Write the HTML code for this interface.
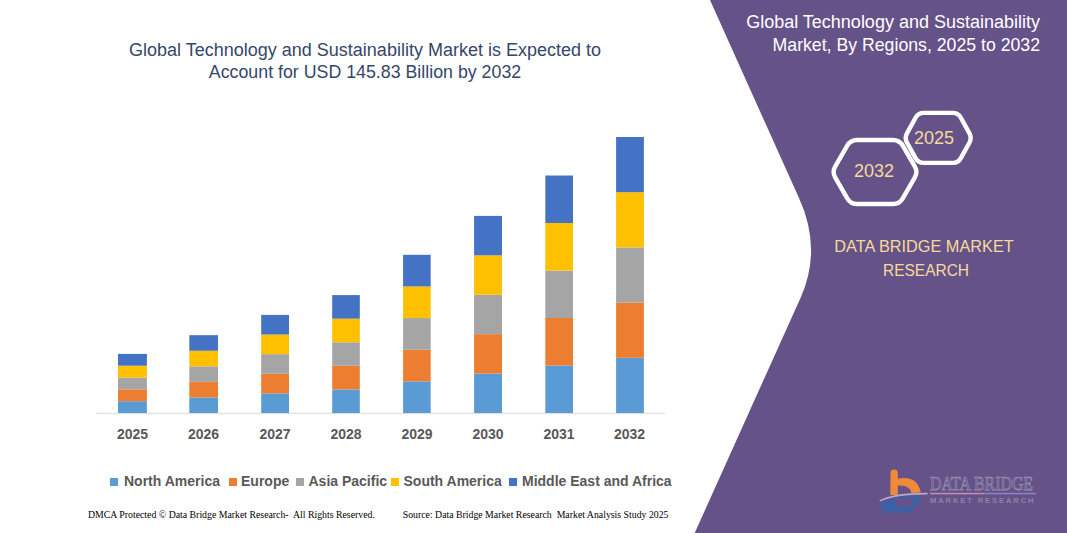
<!DOCTYPE html>
<html><head><meta charset="utf-8">
<style>
html,body{margin:0;padding:0;}
body{width:1067px;height:533px;position:relative;overflow:hidden;background:#fff;font-family:"Liberation Sans",sans-serif;}
.t{position:absolute;white-space:pre;line-height:1;}
.c{transform:translateX(-50%);}
.title{font-size:18px;color:#36466A;}
.rt{font-size:18px;color:#FFFFFF;text-align:right;}
.gold{color:#F6DA9A;}
.yr{font-size:14px;font-weight:bold;color:#595959;top:427px;}
.lg{font-size:14px;font-weight:bold;color:#595959;top:474px;}
.sq{position:absolute;width:8px;height:8px;top:478px;}
.ft{font-family:"Liberation Serif",serif;font-size:9.8px;color:#000;top:510.2px;}
svg{position:absolute;left:0;top:0;}
</style></head><body>
<svg width="1067" height="533" viewBox="0 0 1067 533">
  <path d="M710,0 L1067,0 L1067,533 L694.7,533 L800.5,298 Q822.4,249.2 799,198 Z" fill="#655289"/>
  <!-- axis -->
  <rect x="96.3" y="412.8" width="568.7" height="1" fill="#D9D9D9"/>
  <g id="bars">
<rect x="118.0" y="401.18" width="28.9" height="11.82" fill="#5B9BD5"/>
<rect x="118.0" y="389.36" width="28.9" height="11.82" fill="#ED7D31"/>
<rect x="118.0" y="377.54" width="28.9" height="11.82" fill="#A5A5A5"/>
<rect x="118.0" y="365.72" width="28.9" height="11.82" fill="#FFC000"/>
<rect x="118.0" y="353.90" width="28.9" height="11.82" fill="#4472C4"/>
<rect x="189.3" y="397.44" width="28.7" height="15.56" fill="#5B9BD5"/>
<rect x="189.3" y="381.88" width="28.7" height="15.56" fill="#ED7D31"/>
<rect x="189.3" y="366.32" width="28.7" height="15.56" fill="#A5A5A5"/>
<rect x="189.3" y="350.76" width="28.7" height="15.56" fill="#FFC000"/>
<rect x="189.3" y="335.20" width="28.7" height="15.56" fill="#4472C4"/>
<rect x="261.2" y="393.38" width="27.8" height="19.62" fill="#5B9BD5"/>
<rect x="261.2" y="373.76" width="27.8" height="19.62" fill="#ED7D31"/>
<rect x="261.2" y="354.14" width="27.8" height="19.62" fill="#A5A5A5"/>
<rect x="261.2" y="334.52" width="27.8" height="19.62" fill="#FFC000"/>
<rect x="261.2" y="314.90" width="27.8" height="19.62" fill="#4472C4"/>
<rect x="332.2" y="389.42" width="27.6" height="23.58" fill="#5B9BD5"/>
<rect x="332.2" y="365.84" width="27.6" height="23.58" fill="#ED7D31"/>
<rect x="332.2" y="342.26" width="27.6" height="23.58" fill="#A5A5A5"/>
<rect x="332.2" y="318.68" width="27.6" height="23.58" fill="#FFC000"/>
<rect x="332.2" y="295.10" width="27.6" height="23.58" fill="#4472C4"/>
<rect x="403.1" y="381.36" width="27.6" height="31.64" fill="#5B9BD5"/>
<rect x="403.1" y="349.72" width="27.6" height="31.64" fill="#ED7D31"/>
<rect x="403.1" y="318.08" width="27.6" height="31.64" fill="#A5A5A5"/>
<rect x="403.1" y="286.44" width="27.6" height="31.64" fill="#FFC000"/>
<rect x="403.1" y="254.80" width="27.6" height="31.64" fill="#4472C4"/>
<rect x="474.1" y="373.58" width="27.9" height="39.42" fill="#5B9BD5"/>
<rect x="474.1" y="334.16" width="27.9" height="39.42" fill="#ED7D31"/>
<rect x="474.1" y="294.74" width="27.9" height="39.42" fill="#A5A5A5"/>
<rect x="474.1" y="255.32" width="27.9" height="39.42" fill="#FFC000"/>
<rect x="474.1" y="215.90" width="27.9" height="39.42" fill="#4472C4"/>
<rect x="545.3" y="365.50" width="27.7" height="47.50" fill="#5B9BD5"/>
<rect x="545.3" y="318.00" width="27.7" height="47.50" fill="#ED7D31"/>
<rect x="545.3" y="270.50" width="27.7" height="47.50" fill="#A5A5A5"/>
<rect x="545.3" y="223.00" width="27.7" height="47.50" fill="#FFC000"/>
<rect x="545.3" y="175.50" width="27.7" height="47.50" fill="#4472C4"/>
<rect x="616.1" y="357.80" width="27.8" height="55.20" fill="#5B9BD5"/>
<rect x="616.1" y="302.60" width="27.8" height="55.20" fill="#ED7D31"/>
<rect x="616.1" y="247.40" width="27.8" height="55.20" fill="#A5A5A5"/>
<rect x="616.1" y="192.20" width="27.8" height="55.20" fill="#FFC000"/>
<rect x="616.1" y="137.00" width="27.8" height="55.20" fill="#4472C4"/>
</g>
  <!-- hexagons -->
  <path d="M835.25,166.37 L847.25,145.63 Q850.50,140.00 857.00,140.00 L893.00,140.00 Q899.50,140.00 902.75,145.63 L914.75,166.37 Q918.00,172.00 914.75,177.63 L902.75,198.37 Q899.50,204.00 893.00,204.00 L857.00,204.00 Q850.50,204.00 847.25,198.37 L835.25,177.63 Q832.00,172.00 835.25,166.37 Z" fill="none" stroke="#fff" stroke-width="4.4"/>
  <path d="M907.06,133.08 L915.54,117.72 Q918.20,112.90 923.70,112.90 L952.70,112.90 Q958.20,112.90 960.86,117.72 L969.34,133.08 Q972.00,137.90 969.34,142.72 L960.86,158.08 Q958.20,162.90 952.70,162.90 L923.70,162.90 Q918.20,162.90 915.54,158.08 L907.06,142.72 Q904.40,137.90 907.06,133.08 Z" fill="none" stroke="#fff" stroke-width="4.4"/>
  <!-- logo -->
  <g id="logo">
    <path d="M890.5,472.5 Q890.5,469.5 894,469.5 Q897.8,469.5 897.8,472.5 L897.8,478.8 Q917,475 920.8,492.5 L911.5,493 Q910,484.5 897.8,485.5 L897.8,495 L890.3,495 Z" fill="#F08A3A"/>
    <path d="M881.2,502.5 Q898,495.5 920.5,494.5 Q921,508 906,512.8 L886,512.8 Q881.2,512.5 881.2,508 Z M896.5,499.2 L896.5,507 L906,507 Q913,506 914,498.2 Q905,497.8 896.5,499.2 Z" fill="#3D60A4" fill-rule="evenodd"/>
    <path d="M880.3,500.6 Q895,493.5 927,493.6" fill="none" stroke="#BCA6C6" stroke-width="1.6" stroke-linecap="round"/>
    <text x="930" y="489.5" font-family="Liberation Serif" font-size="18.5" textLength="103" lengthAdjust="spacingAndGlyphs" fill="none" stroke="#948EAE" stroke-width="0.75">DATA BRIDGE</text>
    <rect x="930" y="492.8" width="54" height="1.5" fill="#C890B0"/>
    <rect x="984" y="492.8" width="52" height="1.5" fill="#8A86C0"/>
    <text x="930" y="503" font-family="Liberation Sans" font-weight="bold" font-size="7.6" textLength="103.5" lengthAdjust="spacing" fill="#8A85A6">MARKET RESEARCH</text>
  </g>
</svg>

<div class="t title c" style="left:365px;top:40.5px;">Global Technology and Sustainability Market is Expected to</div>
<div class="t title c" style="left:365px;top:64.2px;font-size:17.8px;">Account for USD 145.83 Billion by 2032</div>

<div class="t rt" style="right:27px;top:13.2px;">Global Technology and Sustainability</div>
<div class="t rt" style="right:27px;top:37.4px;font-size:17.7px;">Market, By Regions, 2025 to 2032</div>

<div class="t gold c" style="font-size:18px;left:874px;top:162px;">2032</div>
<div class="t gold c" style="font-size:18px;left:934px;top:129px;">2025</div>

<div class="t gold c" style="font-size:16.3px;left:924px;top:238px;">DATA BRIDGE MARKET</div>
<div class="t gold c" style="font-size:16.3px;left:926px;top:262px;transform:translateX(-50%) scaleX(0.95);">RESEARCH</div>

<div class="t yr c" style="left:132.5px">2025</div>
<div class="t yr c" style="left:203.5px">2026</div>
<div class="t yr c" style="left:275px">2027</div>
<div class="t yr c" style="left:346px">2028</div>
<div class="t yr c" style="left:417px">2029</div>
<div class="t yr c" style="left:488px">2030</div>
<div class="t yr c" style="left:559px">2031</div>
<div class="t yr c" style="left:629.5px">2032</div>

<div class="sq" style="left:110px;background:#5B9BD5"></div>
<div class="t lg" style="left:124px">North America</div>
<div class="sq" style="left:228.5px;background:#ED7D31"></div>
<div class="t lg" style="left:241px">Europe</div>
<div class="sq" style="left:295.5px;background:#A5A5A5"></div>
<div class="t lg" style="left:308.5px">Asia Pacific</div>
<div class="sq" style="left:390.5px;background:#FFC000"></div>
<div class="t lg" style="left:403.5px">South America</div>
<div class="sq" style="left:509px;background:#4472C4"></div>
<div class="t lg" style="left:522px">Middle East and Africa</div>

<div class="t ft" style="left:88px">DMCA Protected © Data Bridge Market Research-  All Rights Reserved.</div>
<div class="t ft" style="left:402.7px">Source: Data Bridge Market Research  Market Analysis Study 2025</div>

</body></html>
